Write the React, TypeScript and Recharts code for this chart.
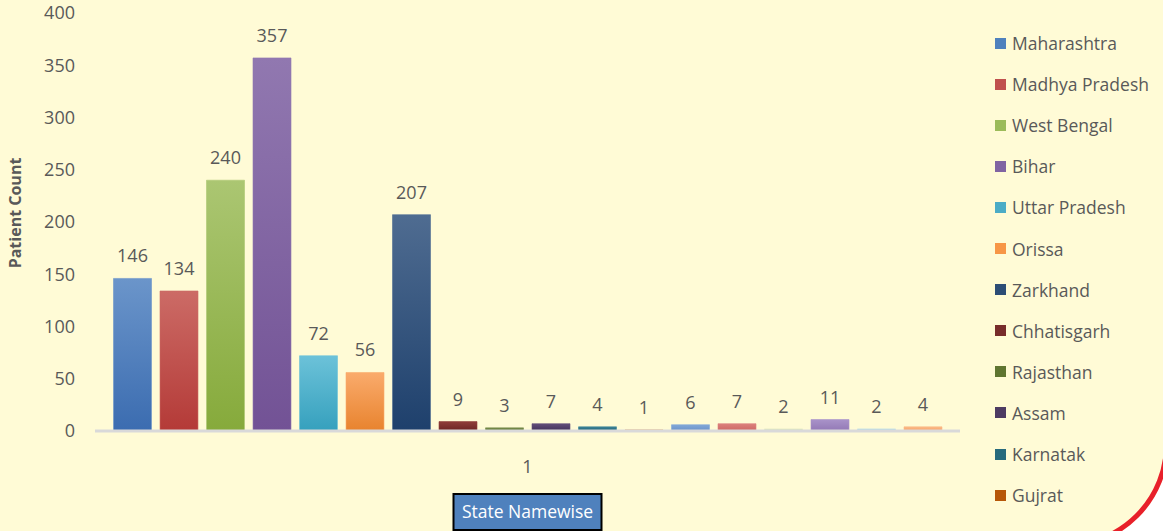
import { Bar, BarChart, LabelList, XAxis, YAxis } from "recharts";

const categories = ["1"];
const states = [
  "Maharashtra",
  "Madhya Pradesh",
  "West Bengal",
  "Bihar",
  "Uttar Pradesh",
  "Orissa",
  "Zarkhand",
  "Chhatisgarh",
  "Rajasthan",
  "Assam",
  "Karnatak",
  "Gujrat",
  "State 13",
  "State 14",
  "State 15",
  "State 16",
  "State 17",
  "State 18",
];
const patientCounts = [146, 134, 240, 357, 72, 56, 207, 9, 3, 7, 4, 1, 6, 7, 2, 11, 2, 4];
const yTicks = [0, 50, 100, 150, 200, 250, 300, 350, 400];
const legendCount = 12;

// [top of gradient, bottom of gradient, legend swatch]
const barColors = [
  ["#6b95ca", "#3b6cb0", "#4f81bd"],
  ["#cc6b66", "#b43a37", "#c0504d"],
  ["#abc672", "#86aa3b", "#9bbb59"],
  ["#9178b0", "#725295", "#8064a2"],
  ["#6cc2d9", "#35a0bd", "#4bacc6"],
  ["#faab6c", "#e8832e", "#f79646"],
  ["#4f6c91", "#1e406c", "#2c4d75"],
  ["#8f3d3a", "#6b2422", "#772c2a"],
  ["#788d4d", "#546927", "#5f7530"],
  ["#624e7a", "#413059", "#4d3b62"],
  ["#3c8398", "#1e6073", "#276a7c"],
  ["#c96e1f", "#a64e05", "#b65708"],
  ["#82a8d8", "#6a92c8", "#729aca"],
  ["#dc817d", "#cd6662", "#d4706d"],
  ["#dfe8bf", "#cfdca6", "#d7e4b5"],
  ["#a993c9", "#9278b5", "#9a83bf"],
  ["#b6dde8", "#9fd0de", "#a5d5e2"],
  ["#fbb986", "#f7a266", "#f9b076"],
];

const chartData = categories.map((category) => {
  const row: Record<string, string | number> = { category };
  states.forEach((_, i) => {
    row[`s${i}`] = patientCounts[i];
  });
  return row;
});

const font = "'Open Sans', sans-serif";
const textColor = "#595959";

function AxisTitle(props: any) {
  const { viewBox } = props;
  const cx = viewBox.x + viewBox.width / 2;
  return (
    <g>
      <rect x={cx - 74} y={494} width={148} height={36} fill="#4f81bd" stroke="#000" strokeWidth={2} />
      <text x={cx} y={512} dy="0.36em" textAnchor="middle" fill="#fff" fontSize={17.5} fontFamily={font}>
        State Namewise
      </text>
    </g>
  );
}

function CountTitle() {
  return (
    <text
      x={15}
      y={213}
      dy="0.36em"
      transform="rotate(-90, 15, 213)"
      textAnchor="middle"
      fill={textColor}
      fontSize={16}
      fontWeight={700}
      fontFamily={font}
    >
      Patient Count
    </text>
  );
}

export default function App() {
  return (
    <div
      style={{
        position: "relative",
        width: 1163,
        height: 531,
        overflow: "hidden",
        background: "#fffbd6",
        fontFamily: font,
      }}
    >
      <style>{"body{margin:0}"}</style>
      <BarChart
        width={1163}
        height={531}
        data={chartData}
        margin={{ top: 13, right: 203, bottom: 40, left: 0 }}
        barGap={8.5}
        barCategoryGap={18.5}
      >
        <defs>
          {barColors.map((c, i) => (
            <linearGradient key={i} id={`grad${i}`} x1="0" y1="0" x2="0" y2="1">
              <stop offset="0%" stopColor={c[0]} />
              <stop offset="100%" stopColor={c[1]} />
            </linearGradient>
          ))}
        </defs>
        <XAxis
          dataKey="category"
          height={60}
          tickSize={0}
          tickMargin={29}
          tickLine={false}
          axisLine={{ stroke: "#d9d9d9", strokeWidth: 3 }}
          tick={{ fill: textColor, fontSize: 18, fontFamily: font }}
          label={<AxisTitle />}
        />
        <YAxis
          width={95}
          domain={[0, 400]}
          ticks={yTicks}
          tickSize={0}
          tickMargin={20}
          axisLine={false}
          tickLine={false}
          tick={{ fill: textColor, fontSize: 18, fontFamily: font }}
          label={<CountTitle />}
        />
        {states.map((name, i) => (
          <Bar
            key={name}
            dataKey={`s${i}`}
            name={name}
            fill={`url(#grad${i})`}
            stroke={barColors[i][0]}
            strokeOpacity={0.6}
            strokeWidth={1}
            isAnimationActive={false}
          >
            <LabelList
              dataKey={`s${i}`}
              position="top"
              offset={16}
              fill={textColor}
              fontSize={18}
              fontFamily={font}
            />
          </Bar>
        ))}
      </BarChart>

      <div style={{ position: "absolute", left: 995, top: 0 }}>
        {states.slice(0, legendCount).map((name, i) => (
          <div
            key={name}
            style={{
              position: "absolute",
              top: 43 + i * 41.1 - 11,
              left: 0,
              height: 22,
              display: "flex",
              alignItems: "center",
              whiteSpace: "nowrap",
              color: textColor,
              fontSize: 17.5,
            }}
          >
            <span
              style={{
                display: "inline-block",
                width: 11,
                height: 11,
                marginRight: 6,
                background: barColors[i][2],
              }}
            />
            <span>{name}</span>
          </div>
        ))}
      </div>

      <svg
        width={1163}
        height={531}
        style={{ position: "absolute", left: 0, top: 0, pointerEvents: "none" }}
      >
        <path d="M 1169 444 A 104 104 0 0 1 1065 548 L 1169 548 Z" fill="#ffffff" />
        <path
          d="M 1166.5 444 A 101.5 101.5 0 0 1 1065 545.5"
          fill="none"
          stroke="#e8202a"
          strokeWidth={5}
        />
      </svg>
    </div>
  );
}
